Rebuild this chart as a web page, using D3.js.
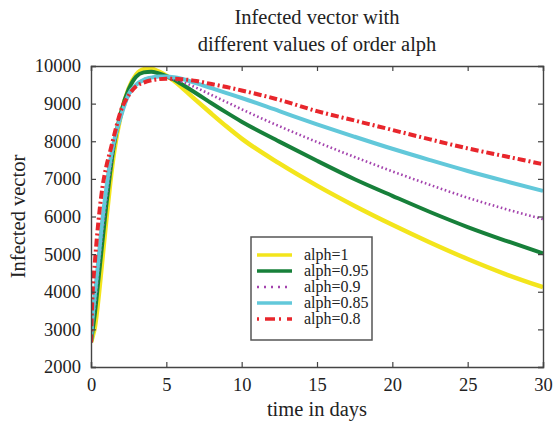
<!DOCTYPE html>
<html><head><meta charset="utf-8">
<script src="https://cdn.jsdelivr.net/npm/d3@7"></script>
<style>
html,body{margin:0;padding:0;background:#fff;}
svg{display:block;}
</style></head>
<body><svg id="c" width="553" height="425" font-family="Liberation Serif"></svg>
<script>
const days = [0, 0.1, 0.25, 0.5, 0.75, 1, 1.25, 1.5, 2, 2.5, 3, 3.5, 4, 4.5, 5, 5.5, 6, 7, 8, 9, 10, 12.5, 15, 17.5, 20, 22.5, 25, 27.5, 30];
const alph1   = [2650, 2800, 3050, 3850, 4845, 5850, 6800, 7620, 8740, 9400, 9770, 9915, 9930, 9850, 9740, 9610, 9440, 9080, 8730, 8390, 8070, 7410, 6820, 6280, 5780, 5310, 4870, 4470, 4120];
const alph095 = [2650, 2950, 3400, 4350, 5300, 6250, 7100, 7850, 8780, 9380, 9720, 9830, 9850, 9800, 9730, 9640, 9520, 9270, 9010, 8760, 8520, 7990, 7480, 6990, 6550, 6120, 5720, 5360, 5020];
const alph09  = [2650, 3150, 3600, 4600, 5550, 6400, 7150, 7800, 8650, 9200, 9500, 9640, 9700, 9710, 9690, 9650, 9590, 9420, 9230, 9040, 8850, 8400, 7980, 7580, 7200, 6840, 6500, 6200, 5930];
const alph085 = [2650, 3300, 3900, 4880, 5900, 6700, 7420, 7950, 8680, 9250, 9500, 9630, 9690, 9720, 9720, 9700, 9660, 9540, 9410, 9280, 9150, 8800, 8450, 8120, 7800, 7500, 7210, 6940, 6680];
const alph08  = [2650, 3900, 4750, 5900, 6750, 7300, 7700, 8100, 8830, 9220, 9460, 9560, 9620, 9650, 9660, 9660, 9650, 9600, 9520, 9440, 9350, 9100, 8800, 8550, 8300, 8050, 7810, 7600, 7390];
const seriesNames = ["alph=1", "alph=0.95", "alph=0.9", "alph=0.85", "alph=0.8"];
const xTicks = [0, 5, 10, 15, 20, 25, 30];
const yTicks = [2000, 3000, 4000, 5000, 6000, 7000, 8000, 9000, 10000];
const titleLines = ["Infected vector with", "different values of order alph"];
const xLabel = "time in days";
const yLabel = "Infected vector";

const seriesValues = [alph1, alph095, alph09, alph085, alph08];
const styles = [
  {color:"#f3e51c", width:4.5, dash:null},
  {color:"#17803a", width:4, dash:null},
  {color:"#a444ae", width:2.6, dash:"1.6,2.6"},
  {color:"#62c8da", width:4, dash:null},
  {color:"#e8262c", width:4, dash:"8,3,2,3"}
];
const FONT = "'Liberation Serif', 'Times New Roman', serif";
const TXT = "#222";

const svg = d3.select("#c");
const L = 91, R = 543, T = 66, B = 367;
const x = d3.scaleLinear().domain([0, 30]).range([L, R]);
const y = d3.scaleLinear().domain([2000, 10000]).range([B, T]);

svg.append("defs").append("clipPath").attr("id","clip")
  .append("rect").attr("x", L).attr("y", T-4).attr("width", R-L).attr("height", B-T+4);

// title
svg.append("text").attr("text-anchor","middle").attr("font-family",FONT).attr("fill",TXT)
  .attr("font-size",20.5)
  .selectAll("tspan").data(titleLines).join("tspan")
  .attr("x", (L+R)/2).attr("y", (d,i)=> 24 + i*27).text(d=>d);

// lines
const line = d3.line().x((d,i)=>x(days[i])).y(d=>y(d)).curve(d3.curveMonotoneX);
const g = svg.append("g").attr("clip-path","url(#clip)");
seriesValues.forEach((vals, k) => {
  const s = styles[k];
  g.append("path").attr("d", line(vals)).attr("fill","none")
    .attr("stroke", s.color).attr("stroke-width", s.width)
    .attr("stroke-dasharray", s.dash).attr("stroke-linejoin","round");
});

// axes
const axCol = "#444";
const xb = svg.append("g").attr("transform",`translate(0,${B})`)
  .call(d3.axisBottom(x).tickValues(xTicks).tickSize(-5).tickPadding(10).tickFormat(d3.format("d")));
const xt = svg.append("g").attr("transform",`translate(0,${T})`)
  .call(d3.axisTop(x).tickValues(xTicks).tickSize(-5).tickFormat(""));
const yl = svg.append("g").attr("transform",`translate(${L},0)`)
  .call(d3.axisLeft(y).tickValues(yTicks).tickSize(-5).tickPadding(10).tickFormat(d3.format("d")));
const yr = svg.append("g").attr("transform",`translate(${R},0)`)
  .call(d3.axisRight(y).tickValues(yTicks).tickSize(-5).tickFormat(""));
[xb,xt,yl,yr].forEach(a=>{
  a.attr("font-family", FONT).attr("font-size", 18.5);
  a.selectAll("path").attr("stroke",axCol).attr("stroke-width",1.4);
  a.selectAll("line").attr("stroke",axCol).attr("stroke-width",1.2);
  a.selectAll("text").attr("fill",TXT);
});
xb.selectAll("text").attr("dy","0.75em");

// axis labels
svg.append("text").attr("x",(L+R)/2).attr("y",416).attr("text-anchor","middle")
  .attr("font-family",FONT).attr("fill",TXT).attr("font-size",20.5).text(xLabel);
svg.append("text").attr("transform",`translate(25,${(T+B)/2}) rotate(-90)`)
  .attr("font-family",FONT).attr("fill",TXT)
  .attr("text-anchor","middle").attr("font-size",20.5).text(yLabel);

// legend
const lg = svg.append("g").attr("font-family",FONT);
lg.append("rect").attr("x",251).attr("y",237).attr("width",121).attr("height",103)
  .attr("fill","#fff").attr("stroke","#555").attr("stroke-width",1.5);
seriesNames.forEach((n,k)=>{
  const yy = 255 + k*16;
  const s = styles[k];
  lg.append("line").attr("x1",257).attr("x2",292).attr("y1",yy).attr("y2",yy)
    .attr("stroke",s.color).attr("stroke-width", k===2?2.6:3.5)
    .attr("stroke-dasharray", k===2 ? "2,5" : (k===4 ? "2,6,10,4" : null));
  lg.append("text").attr("x",304).attr("y",yy).attr("dy","0.33em")
    .attr("fill",TXT).attr("font-size",16).text(n);
});
</script></body></html>
